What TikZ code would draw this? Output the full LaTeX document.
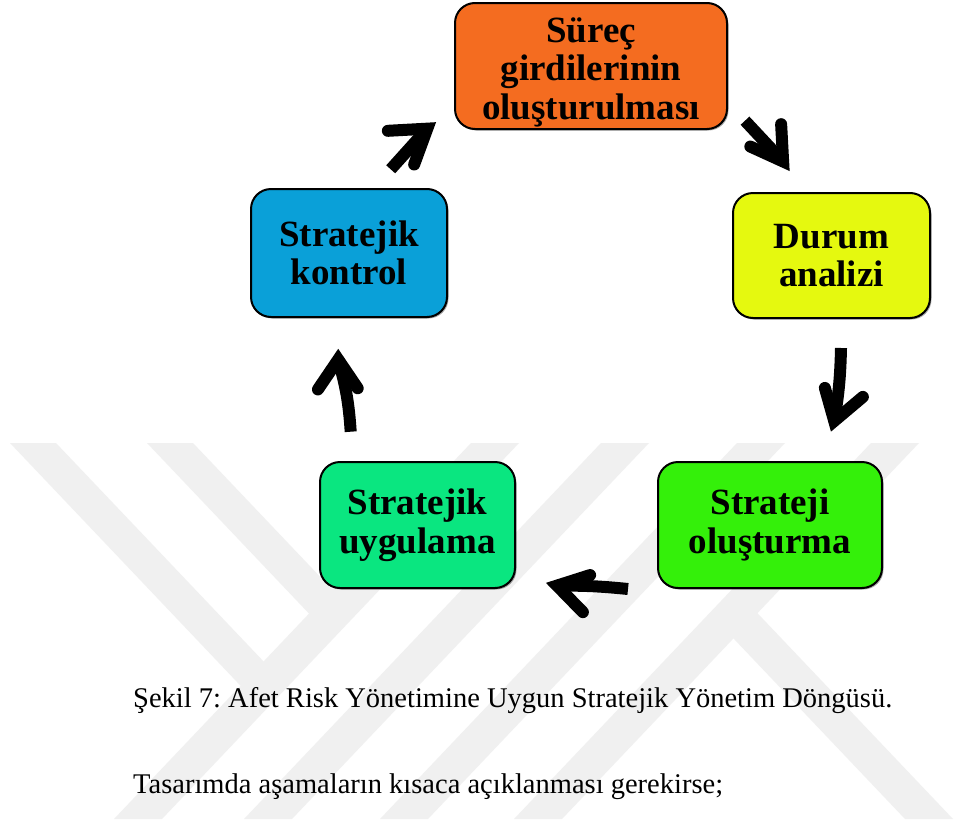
\documentclass[tikz,border=0pt]{standalone}
\usepackage{fontspec}
\setmainfont{Liberation Serif}
\usetikzlibrary{calc,shadows}
\frenchspacing

\definecolor{cOrange}{RGB}{244,108,32}
\definecolor{cBlue}{RGB}{10,160,216}
\definecolor{cYellow}{RGB}{229,249,15}
\definecolor{cTeal}{RGB}{10,230,128}
\definecolor{cGreen}{RGB}{52,240,10}
\definecolor{cMark}{RGB}{240,240,240}

\tikzset{
  stage/.style={draw=black, line width=2pt, rounded corners=20pt,
    align=center, inner sep=0pt,
    font=\bfseries\fontsize{37}{38.5}\selectfont,
    drop shadow={shadow xshift=1.5pt, shadow yshift=-1.5pt, opacity=0.35, fill=black}},
  shaft/.style={line width=12pt, line cap=butt, black},
  barbs/.style={line width=12pt, line cap=round, line join=miter, black},
  band/.style={fill=cMark, draw=none},
  caption/.style={anchor=base west, inner sep=0pt, font=\fontsize{28.5}{34}\selectfont}
}

% thick hand-drawn arrow: tail, tip, barb ends, bend of the shaft
\newcommand\cyclearrow[5]{%
  \coordinate (apex) at ($(#2)!13pt!(#1)$);
  \draw[shaft] (#1) to[bend left=#5] (apex);
  \draw[barbs] ($(#3)!5pt!(#2)$) -- (apex) -- ($(#4)!5pt!(#2)$);
}

\begin{document}
\begin{tikzpicture}[x=1pt,y=-1pt]
\useasboundingbox (0,0) rectangle (979,819);
\fill[white] (0,0) rectangle (979,819);

% faint background mark: diagonal bands
\begin{scope}
  \clip (0,443) rectangle (979,819);
  % falling bands that end on the first rising band
  \fill[band] (10,443) -- (56,443) -- (275.5,674) -- (252.5,698.3) -- cycle;
  \fill[band] (147,443) -- (193,443) -- (344,601.9) -- (321,626.2) -- cycle;
  % rising bands
  \fill[band] (471,443) -- (519,443) -- (162,819) -- (114,819) -- cycle;
  \fill[band] (601,443) -- (649,443) -- (292,819) -- (244,819) -- cycle;
  \fill[band] (737,443) -- (785,443) -- (428,819) -- (380,819) -- cycle;
  \fill[band] (871,443) -- (919,443) -- (562,819) -- (514,819) -- cycle;
  % falling band leaving the last rising band
  \fill[band] (721.4,625.7) -- (745.4,600.5) -- (953,819) -- (905,819) -- cycle;
\end{scope}

% stages of the cycle
\node[stage, fill=cOrange, minimum width=272pt, minimum height=126pt] (girdi) at (591,66)
  {\rule{0pt}{37pt}Süreç\\girdilerinin\\oluşturulması};
\node[stage, fill=cYellow, minimum width=197pt, minimum height=125pt] (durum) at (831.5,255.5)
  {Durum\\analizi};
\node[stage, fill=cGreen, minimum width=224pt, minimum height=126pt] (olustur) at (770,525)
  {Strateji\\oluşturma};
\node[stage, fill=cTeal, minimum width=195pt, minimum height=126pt] (uygula) at (417.5,525)
  {Stratejik\\uygulama};
\node[stage, fill=cBlue, minimum width=196pt, minimum height=128pt] (kontrol) at (349,253)
  {Stratejik\\kontrol};

% arrow end points
\coordinate (t1) at (390.7,169.3); \coordinate (p1) at (436,119);
\coordinate (l1) at (383,132);     \coordinate (r1) at (412,169);
\coordinate (t2) at (745,120.7);   \coordinate (p2) at (792,171);
\coordinate (l2) at (780,119.3);   \coordinate (r2) at (746,144);
\coordinate (t3) at (841,348);     \coordinate (p3) at (833,434);
\coordinate (l3) at (824,383);     \coordinate (r3) at (866,393);
\coordinate (t4) at (628,589);     \coordinate (p4) at (544,585);
\coordinate (l4) at (595,574);     \coordinate (r4) at (587,615);
\coordinate (t5) at (350.7,431.7); \coordinate (p5) at (336,346.7);
\coordinate (l5) at (316,394);     \coordinate (r5) at (360,392.7);

\cyclearrow{t1}{p1}{l1}{r1}{0}
\cyclearrow{t2}{p2}{l2}{r2}{0}
\cyclearrow{t3}{p3}{l3}{r3}{4}
\cyclearrow{t4}{p4}{l4}{r4}{-3}
\cyclearrow{t5}{p5}{l5}{r5}{-6}

% caption and following text
\node[caption] (cap) at (133,707)
  {Şekil 7: Afet Risk Yönetimine Uygun Stratejik Yönetim Döngüsü.};
\node[caption] (body) at (133,793)
  {Tasarımda aşamaların kısaca açıklanması gerekirse;};
\end{tikzpicture}
\end{document}
